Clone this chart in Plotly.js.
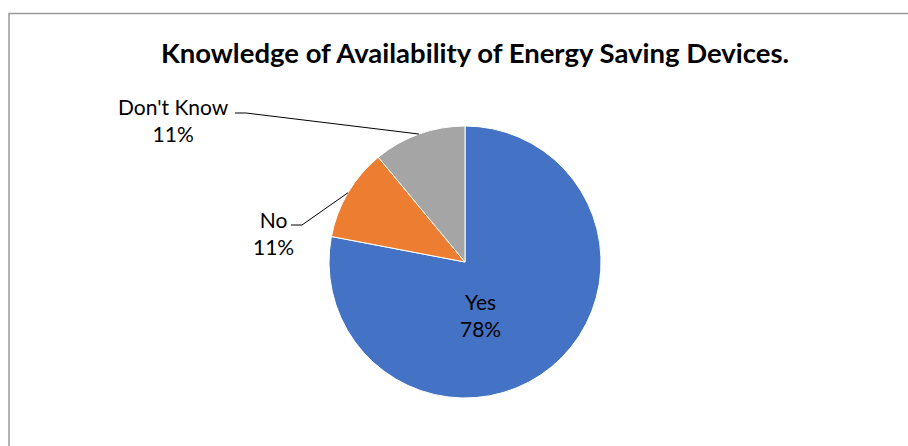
<!DOCTYPE html>
<html>
<head>
<meta charset="utf-8">
<script src="https://cdn.plot.ly/plotly-3.0.1.min.js"></script>
<style>
  html, body { margin: 0; padding: 0; background: #fff; }
  #chart { width: 908px; height: 446px; }
</style>
</head>
<body>
<div id="chart"></div>
<script>
// Survey responses: knowledge of availability of energy saving devices
const categories = ["Yes", "No", "Don't Know"];
const shares = [78, 11, 11];
const sliceColors = ["#4472C4", "#ED7D31", "#A5A5A5"];

const W = 908, H = 446;
const FONT = "Lato, 'Open Sans', sans-serif";

// pie geometry in pixels (center and radius of the drawn disc)
const cx = 465, cy = 262, R = 136;
const px = x => x / W;
const py = y => 1 - y / H;

const total = shares.reduce((a, b) => a + b, 0);
const pct = v => Math.round(v / total * 100) + "%";

// mid-angle (clockwise from 12 o'clock) of each slice, following the trace order
const midAngles = [];
let acc = 0;
shares.forEach(v => {
  const a0 = acc / total * 2 * Math.PI;
  acc += v;
  const a1 = acc / total * 2 * Math.PI;
  midAngles.push((a0 + a1) / 2);
});
const edgePoint = i => [cx + R * Math.sin(midAngles[i]), cy - R * Math.cos(midAngles[i])];

const trace = {
  type: "pie",
  labels: categories,
  values: shares,
  sort: false,
  direction: "clockwise",
  rotation: 0,
  marker: { colors: sliceColors, line: { color: "#ffffff", width: 1 } },
  textinfo: "none",
  hoverinfo: "label+percent",
  showlegend: false,
  domain: { x: [px(cx - R), px(cx + R)], y: [py(cy + R), py(cy - R)] }
};

// label placement: [center x, center y] for each category
const labelPos = [[481, 315], [273, 233], [173, 120]];
const labelFont = { family: FONT, size: 21, color: "#000000" };

const annotations = categories.map((c, i) => ({
  xref: "paper", yref: "paper",
  x: px(labelPos[i][0]), y: py(labelPos[i][1]),
  xanchor: "center", yanchor: "middle",
  text: c + "<br>" + pct(shares[i]),
  showarrow: false,
  align: "center",
  font: labelFont
}));

// leader lines for the outside labels: short horizontal run, then to the slice edge
const leaderStarts = { 1: [291, 225], 2: [235, 113] };
const shapes = [];
Object.keys(leaderStarts).forEach(k => {
  const i = Number(k);
  const [sx, sy] = leaderStarts[i];
  const [ex, ey] = edgePoint(i);
  shapes.push({
    type: "path",
    xref: "paper", yref: "paper",
    path: `M ${px(sx)} ${py(sy)} L ${px(sx + 11)} ${py(sy)} L ${px(ex)} ${py(ey)}`,
    line: { color: "#000000", width: 1 }
  });
});

// chart-area frame
shapes.push({
  type: "rect", xref: "paper", yref: "paper",
  x0: px(9), x1: 1.02, y0: -0.02, y1: py(13.5),
  line: { color: "#9a9a9a", width: 1.5 },
  fillcolor: "rgba(0,0,0,0)"
});

const layout = {
  width: W, height: H,
  margin: { l: 0, r: 0, t: 0, b: 0, autoexpand: false },
  paper_bgcolor: "#ffffff",
  title: {
    text: "<b>Knowledge of Availability of Energy Saving Devices.</b>",
    x: px(475), xanchor: "center",
    y: py(53), yanchor: "middle", yref: "container",
    font: { family: FONT, size: 27.5, color: "#000000" }
  },
  annotations: annotations,
  shapes: shapes
};

Plotly.newPlot("chart", [trace], layout, { staticPlot: true, displayModeBar: false });
</script>
</body>
</html>
